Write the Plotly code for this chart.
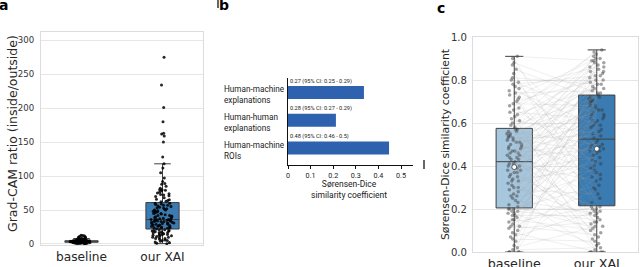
import plotly.graph_objects as go

# ---------------- data ----------------
groups = ["baseline", "our XAI"]

# panel a: Grad-CAM ratio (inside/outside)
gradcam_baseline = [0.2, 0.5, 0.8, 1.0, 1.2, 1.4, 1.5, 1.7, 1.9, 2.0, 2.1, 2.2, 2.3, 2.4, 2.5, 2.6, 2.7,
                    2.8, 2.9, 3.0, 3.0, 3.1, 3.2, 3.3, 3.4, 3.5, 3.5, 3.6, 3.7, 3.8, 3.9, 4.0, 4.0, 4.1,
                    4.2, 4.3, 4.4, 4.5, 4.6, 4.7, 4.8, 5.0, 5.2, 5.4, 5.6, 5.8, 6.0, 6.3, 6.6, 7.0, 7.4,
                    7.8, 8.3, 8.9, 9.5, 10.2, 11.0, 12.0, 13.0, 1.1, 1.6, 2.2, 2.6, 3.1, 3.4, 3.7, 4.1,
                    4.4, 4.9, 5.3, 6.1, 7.2, 9.0, 10.5, 12.5, 2.9, 3.3, 3.9, 4.3]
gradcam_xai = [275, 234, 201, 180, 163, 162, 159, 150, 128, 118,
               62, 63, 64, 65, 66, 68, 70, 71, 72, 73, 74, 75, 76, 78, 79, 80, 80, 82, 85, 88, 89, 92,
               97, 105, 112,
               37, 38, 38, 39, 40, 40, 41, 42, 42, 43, 44, 45, 45, 46, 47, 48, 48, 49, 50, 50, 51, 52,
               53, 53, 54, 55, 56, 57, 57, 58, 59, 60, 60,
               22, 23, 23, 24, 24, 25, 25, 26, 26, 27, 27, 28, 28, 29, 29, 30, 30, 30, 31, 31, 32, 32,
               33, 33, 33, 34, 34, 35, 35, 35, 36, 36, 36,
               0.5, 1, 2, 3, 4, 5, 5, 6, 7, 8, 8, 9, 10, 10, 11, 12, 12, 13, 13, 14, 14, 15, 15, 16, 16,
               17, 17, 18, 18, 19, 19, 20, 20, 21, 21]
# box statistics: [baseline, our XAI]
a_q1 = [2.5, 22]
a_median = [3.8, 36]
a_q3 = [4.8, 61]
a_low = [0.3, 0.5]
a_high = [8.0, 118]

# panel b: Sørensen-Dice similarity coefficient
b_labels = ["Human-machine<br>explanations", "Human-human<br>explanations", "Human-machine<br>ROIs"]
b_values = [0.336, 0.212, 0.447]
b_ci_text = ["0.27 (95% CI: 0.25 - 0.29)", "0.28 (95% CI: 0.27 - 0.29)", "0.48 (95% CI: 0.46 - 0.5)"]
b_ticks = [0, 0.1, 0.2, 0.3, 0.4, 0.5]

# panel c: paired Sørensen-Dice similarity coefficients
dice_baseline = [0.0, 0.0, 0.0, 0.0, 0.01, 0.02, 0.03, 0.05, 0.06, 0.07, 0.08, 0.09, 0.10, 0.11, 0.12,
                 0.12, 0.13, 0.14, 0.15, 0.15, 0.16, 0.17, 0.17, 0.18, 0.18, 0.19, 0.19, 0.20, 0.20, 0.20,
                 0.21, 0.22, 0.23, 0.24, 0.25, 0.26, 0.26, 0.27, 0.28, 0.29, 0.30, 0.30, 0.31, 0.32, 0.33,
                 0.33, 0.34, 0.35, 0.35, 0.36, 0.37, 0.37, 0.38, 0.38, 0.39, 0.40, 0.40, 0.41, 0.41, 0.42,
                 0.43, 0.43, 0.44, 0.44, 0.45, 0.45, 0.46, 0.46, 0.47, 0.47, 0.48, 0.48, 0.49, 0.49, 0.50,
                 0.50, 0.51, 0.51, 0.52, 0.52, 0.53, 0.53, 0.54, 0.54, 0.55, 0.55, 0.56, 0.56, 0.57, 0.57,
                 0.58, 0.59, 0.60, 0.61, 0.62, 0.63, 0.64, 0.65, 0.66, 0.67, 0.68, 0.69, 0.70, 0.71, 0.72,
                 0.73, 0.74, 0.75, 0.76, 0.77, 0.78, 0.79, 0.80, 0.81, 0.83, 0.85, 0.87, 0.88, 0.90, 0.91]
dice_xai = [0.0, 0.47, 0.0, 0.81, 0.02, 0.12, 0.35, 0.66, 0.05, 0.19, 0.59, 0.0, 0.88, 0.14, 0.29,
            0.08, 0.53, 0.21, 0.72, 0.10, 0.40, 0.17, 0.62, 0.03, 0.45, 0.76, 0.15, 0.31, 0.68, 0.20,
            0.11, 0.52, 0.74, 0.18, 0.36, 0.64, 0.01, 0.49, 0.83, 0.27, 0.58, 0.16, 0.70, 0.42, 0.06,
            0.90, 0.38, 0.61, 0.21, 0.50, 0.79, 0.13, 0.44, 0.67, 0.09, 0.56, 0.85, 0.33, 0.71, 0.19,
            0.63, 0.86, 0.48, 0.04, 0.77, 0.69, 0.51, 0.92, 0.25, 0.57, 0.80, 0.14, 0.66, 0.43, 0.89,
            0.60, 0.37, 0.73, 0.84, 0.07, 0.54, 0.46, 0.78, 0.65, 0.30, 0.91, 0.70, 0.50, 0.18, 0.82,
            0.87, 0.72, 0.94, 0.55, 0.84, 0.0, 0.76, 0.62, 0.93, 0.41, 0.88, 0.68, 0.80, 0.34, 0.90,
            0.12, 0.75, 0.59, 0.86, 0.47, 0.82, 0.64, 0.39, 0.78, 0.20, 0.71, 0.49, 0.74, 0.23, 0.89]
c_q1 = [0.205, 0.215]
c_median = [0.42, 0.525]
c_q3 = [0.575, 0.73]
c_low = [0.0, 0.0]
c_high = [0.91, 0.94]
c_mean = [0.395, 0.48]

# ---------------- style ----------------
BOX_COLORS = ["#a7c7df", "#3a7bb1"]
EDGE = "#3f3f3f"
FRAME = "#dcdcdc"
GRID = "#e6e6e6"
SNS_FONT = "DejaVu Sans"
B_FONT = "Roboto"
W, H = 640, 267


def px_x(p):
    return p / W


def px_y(p):
    return 1 - p / H


fig = go.Figure()

# ---- panel a ----
for i, g in enumerate(groups):
    fig.add_trace(go.Box(
        x=[g], q1=[a_q1[i]], median=[a_median[i]], q3=[a_q3[i]],
        lowerfence=[a_low[i]], upperfence=[a_high[i]],
        width=0.41, whiskerwidth=0.5, fillcolor=BOX_COLORS[i],
        line=dict(color=EDGE, width=1), boxpoints=False,
        xaxis="x", yaxis="y", showlegend=False, hoverinfo="skip"))
for g, vals in zip(groups, [gradcam_baseline, gradcam_xai]):
    fig.add_trace(go.Box(
        x=[g] * len(vals), y=vals, boxpoints="all", jitter=1, pointpos=0, width=0.3,
        fillcolor="rgba(0,0,0,0)", line=dict(width=0),
        marker=dict(color="rgba(0,0,0,0.85)", size=3, line=dict(width=0)),
        xaxis="x", yaxis="y", showlegend=False, hoverinfo="skip"))

# ---- panel b ----
fig.add_trace(go.Bar(
    x=b_values, y=b_labels, orientation="h", width=0.46,
    marker=dict(color="#2f62ae", line=dict(width=0)),
    xaxis="x2", yaxis="y2", showlegend=False, hoverinfo="skip"))

# ---- panel c ----
lx, ly = [], []
for b, x in zip(dice_baseline, dice_xai):
    lx += [groups[0], groups[1], None]
    ly += [b, x, None]
fig.add_trace(go.Scatter(
    x=lx, y=ly, mode="lines", line=dict(color="rgba(160,160,160,0.25)", width=0.7),
    connectgaps=False, xaxis="x3", yaxis="y3", showlegend=False, hoverinfo="skip"))
for i, g in enumerate(groups):
    fig.add_trace(go.Box(
        x=[g], q1=[c_q1[i]], median=[c_median[i]], q3=[c_q3[i]],
        lowerfence=[c_low[i]], upperfence=[c_high[i]],
        width=0.44, whiskerwidth=0.5, fillcolor=BOX_COLORS[i],
        line=dict(color=EDGE, width=1), boxpoints=False,
        xaxis="x3", yaxis="y3", showlegend=False, hoverinfo="skip"))
for g, vals in zip(groups, [dice_baseline, dice_xai]):
    fig.add_trace(go.Box(
        x=[g] * len(vals), y=vals, boxpoints="all", jitter=1, pointpos=0, width=0.2,
        fillcolor="rgba(0,0,0,0)", line=dict(width=0),
        marker=dict(color="rgba(50,50,50,0.45)", size=3.5, line=dict(width=0)),
        xaxis="x3", yaxis="y3", showlegend=False, hoverinfo="skip"))
fig.add_trace(go.Scatter(
    x=groups, y=c_mean, mode="markers",
    marker=dict(color="white", size=5, line=dict(color="#333333", width=0.8)),
    xaxis="x3", yaxis="y3", showlegend=False, hoverinfo="skip"))

# ---------------- layout ----------------
sns_axis = dict(showline=True, mirror=True, linecolor=FRAME, linewidth=1, zeroline=False, automargin=False)


def note(text, x, y, size, family=SNS_FONT, angle=0, color="#262626", xanchor="center", align="center"):
    return dict(text=text, x=px_x(x), y=px_y(y), xref="paper", yref="paper", xanchor=xanchor,
                yanchor="middle", textangle=angle, align=align, showarrow=False,
                font=dict(family=family, size=size, color=color))


annotations = [
    note("<b>a</b>", 3, 5, 14, color="black"),
    note("<b>b</b>", 224, 5, 14, color="black"),
    note("<b>c</b>", 441, 8, 14, color="black"),
    note("Grad-CAM ratio (inside/outside)", 12, 134, 12.5, angle=-90),
    note("Sørensen-Dice similarity coefficient", 445, 145, 10.8, angle=-90),
    note("Sørensen-Dice<br>similarity coefficient", 349, 189, 8.5, family=B_FONT, color="#222222"),
]
for lab, txt in zip(b_labels, b_ci_text):
    annotations.append(dict(text=txt, x=0, y=lab, xref="x2", yref="y2", xanchor="left", yanchor="middle",
                            xshift=0, yshift=11.5, showarrow=False,
                            font=dict(family=B_FONT, size=5.6, color="#222222")))
    annotations.append(dict(text=lab, x=px_x(222), y=lab, xref="paper", yref="y2", xanchor="left",
                            yanchor="middle", align="left", yshift=-2, showarrow=False,
                            font=dict(family=B_FONT, size=8.2, color="#222222")))

fig.update_layout(
    width=W, height=H, margin=dict(l=0, r=0, t=0, b=0, pad=0, autoexpand=False),
    paper_bgcolor="white", plot_bgcolor="white", boxmode="overlay", showlegend=False,
    font=dict(family=SNS_FONT, color="#333333"),
    xaxis=dict(domain=[px_x(41), px_x(203)], type="category", categoryorder="array",
               categoryarray=groups, range=[-0.5, 1.5], showgrid=False,
               tickfont=dict(size=12.2, color="#262626"), **sns_axis),
    yaxis=dict(domain=[px_y(245), px_y(32)], range=[-1.5, 312], tickvals=[0, 50, 100, 150, 200, 250, 300],
               showgrid=True, gridcolor=GRID, gridwidth=1, ticklabelstandoff=4,
               tickfont=dict(size=8.6, color="#333333"), **sns_axis),
    xaxis2=dict(domain=[px_x(288), px_x(413)], range=[0, 0.553], tickvals=b_ticks, automargin=False,
                showgrid=False, zeroline=False, showline=True, linecolor="#111111", linewidth=1.3,
                ticks="outside", ticklen=3, tickwidth=1, tickcolor="#111111", anchor="y2",
                tickfont=dict(family=B_FONT, size=7.2, color="#222222")),
    yaxis2=dict(domain=[px_y(165), px_y(78)], type="category", categoryorder="array",
                categoryarray=b_labels, autorange="reversed", showticklabels=False, showgrid=False,
                zeroline=False, showline=True, linecolor="#111111", linewidth=1.3, ticks="",
                anchor="x2", automargin=False),
    xaxis3=dict(domain=[px_x(473), px_x(638)], type="category", categoryorder="array",
                categoryarray=groups, range=[-0.5, 1.5], showgrid=False, anchor="y3",
                tickfont=dict(size=12.7, color="#262626"), **sns_axis),
    yaxis3=dict(domain=[px_y(252), px_y(37)], range=[0, 1.0], tickvals=[0, 0.2, 0.4, 0.6, 0.8, 1.0],
                tickformat=".1f", showgrid=True, gridcolor=GRID, gridwidth=1, ticklabelstandoff=3,
                anchor="x3", tickfont=dict(size=10.1, color="#333333"), **sns_axis),
    annotations=annotations,
    shapes=[
        dict(type="line", xref="paper", yref="paper", x0=px_x(218), x1=px_x(218), y0=px_y(0), y1=px_y(8),
             line=dict(color="#333333", width=1.5)),
        dict(type="line", xref="paper", yref="paper", x0=px_x(424), x1=px_x(424), y0=px_y(160),
             y1=px_y(169), line=dict(color="#333333", width=1.5)),
    ],
)

fig.write_html("out.html", config={"displayModeBar": False},
               post_script="document.body.style.margin='0';document.body.style.overflow='hidden';")
